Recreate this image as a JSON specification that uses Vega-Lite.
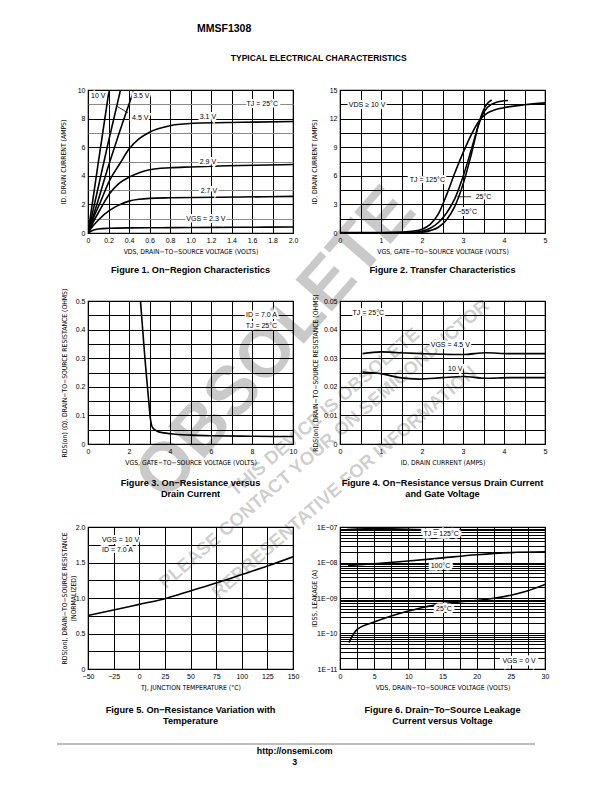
{
  "$schema": "https://vega.github.io/schema/vega-lite/v6.json",
  "background": "white",
  "padding": {"left": 56, "top": 24, "right": 5, "bottom": 5},
  "title": {"text": "MMSF1308", "anchor": "start", "dx": 141, "fontSize": 10.5, "offset": 19},
  "vconcat": [
    {
      "title": {"text": ["http://onsemi.com", "3"], "orient": "bottom", "anchor": "middle", "dx": -8, "fontSize": 8.8, "offset": 2, "lineHeight": 11},
      "vconcat": [
        {
          "title": {"text": "TYPICAL ELECTRICAL CHARACTERISTICS", "anchor": "middle", "dx": 16, "fontSize": 8.5, "offset": 23},
          "columns": 2,
          "align": "each",
          "bounds": "flush",
          "spacing": {"row": 0, "column": 47},
          "concat": [
            {
              "width": 205, "height": 143,
              "title": {"text": "Figure 1. On−Region Characteristics", "orient": "bottom", "frame": "group", "anchor": "middle", "offset": 11},
              "layer": [
                {"data": {"name": "fig1"}, "mark": {"type": "line", "stroke": "black", "strokeWidth": 1.6, "interpolate": "monotone", "clip": true},
                 "encoding": {
                   "x": {"field": "vds", "type": "quantitative", "scale": {"domain": [0, 2], "nice": false, "zero": false},
                         "axis": {"title": "VDS, DRAIN−TO−SOURCE VOLTAGE (VOLTS)", "tickCount": 100, "labelOverlap": false, "values": [0,0.2,0.4,0.6,0.8,1,1.2,1.4,1.6,1.8,2], "labelExpr": "datum.value == 0 ? '0' : format(datum.value, '.1f')"}},
                   "y": {"field": "id", "type": "quantitative", "scale": {"domain": [0, 10], "nice": false},
                         "axis": {"title": "ID, DRAIN CURRENT (AMPS)", "titlePadding": 10.7, "tickCount": 100, "labelOverlap": false, "values": [0,1,2,3,4,5,6,7,8,9,10], "labelExpr": "datum.value % 2 == 0 ? format(datum.value, 'd') : ''", "gridColor": {"condition": {"test": "datum.value % 2 == 1", "value": "#8a8a8a"}, "value": "black"}}},
                   "detail": {"field": "vgs"}
                 }},
                {"data": {"name": "fig1_lead"}, "mark": {"type": "line", "stroke": "black", "strokeWidth": 0.8, "interpolate": "linear"},
                 "encoding": {"x": {"field": "vds", "type": "quantitative"}, "y": {"field": "id", "type": "quantitative"}}},
                {"data": {"name": "fig1_lab"}, "mark": {"type": "text", "fill": "white", "stroke": "white", "strokeWidth": 4, "align": "center", "baseline": "middle", "fontSize": 7},
                 "encoding": {"x": {"field": "vds", "type": "quantitative"}, "y": {"field": "id", "type": "quantitative"}, "text": {"field": "text"}}},
                {"data": {"name": "fig1_lab"}, "mark": {"type": "text", "fill": "black", "align": "center", "baseline": "middle", "fontSize": 7},
                 "encoding": {"x": {"field": "vds", "type": "quantitative"}, "y": {"field": "id", "type": "quantitative"}, "text": {"field": "text"}}}
              ]
            },
            {
              "width": 205, "height": 143,
              "title": {"text": "Figure 2. Transfer Characteristics", "orient": "bottom", "frame": "group", "anchor": "middle", "offset": 11},
              "layer": [
                {"data": {"name": "fig2"}, "mark": {"type": "line", "stroke": "black", "strokeWidth": 1.6, "interpolate": "monotone", "clip": true},
                 "encoding": {
                   "x": {"field": "vgs", "type": "quantitative", "scale": {"domain": [0, 5], "nice": false, "zero": false},
                         "axis": {"title": "VGS, GATE−TO−SOURCE VOLTAGE (VOLTS)", "tickCount": 100, "labelOverlap": false, "values": [0,0.5,1,1.5,2,2.5,3,3.5,4,4.5,5], "labelExpr": "datum.value % 1 == 0 ? format(datum.value, 'd') : ''"}},
                   "y": {"field": "id", "type": "quantitative", "scale": {"domain": [0, 15], "nice": false},
                         "axis": {"title": "ID, DRAIN CURRENT (AMPS)", "titlePadding": 11.5, "tickCount": 100, "labelOverlap": false, "values": [0,1.5,3,4.5,6,7.5,9,10.5,12,13.5,15], "labelExpr": "datum.value % 3 == 0 ? format(datum.value, 'd') : ''"}},
                   "detail": {"field": "tj"}
                 }},
                {"data": {"name": "fig2_lead"}, "mark": {"type": "line", "stroke": "black", "strokeWidth": 0.8, "interpolate": "linear"},
                 "encoding": {"x": {"field": "vgs", "type": "quantitative"}, "y": {"field": "id", "type": "quantitative"}}},
                {"data": {"name": "fig2_lab"}, "mark": {"type": "text", "fill": "white", "stroke": "white", "strokeWidth": 4, "align": "center", "baseline": "middle", "fontSize": 7},
                 "encoding": {"x": {"field": "vgs", "type": "quantitative"}, "y": {"field": "id", "type": "quantitative"}, "text": {"field": "text"}}},
                {"data": {"name": "fig2_lab"}, "mark": {"type": "text", "fill": "black", "align": "center", "baseline": "middle", "fontSize": 7},
                 "encoding": {"x": {"field": "vgs", "type": "quantitative"}, "y": {"field": "id", "type": "quantitative"}, "text": {"field": "text"}}}
              ]
            },
            {
              "width": 205, "height": 68, "view": {"stroke": null},
              "layer": [
                {"data": {"name": "watermark_big"}, "mark": {"type": "text", "font": "Liberation Sans", "fontWeight": "bold", "fontSize": 70, "angle": -49, "fill": "rgba(0,0,0,0.21)", "align": "center", "baseline": "middle"},
                 "encoding": {
                   "x": {"field": "fx", "type": "quantitative", "scale": {"domain": [0, 1], "nice": false, "zero": false}, "axis": null},
                   "y": {"field": "fy", "type": "quantitative", "scale": {"domain": [0, 1], "nice": false, "zero": false, "reverse": true}, "axis": null},
                   "text": {"field": "text"}
                 }},
                {"data": {"name": "watermark_small"}, "mark": {"type": "text", "font": "Liberation Sans", "fontWeight": "bold", "fontSize": 18.5, "angle": -41, "fill": "rgba(0,0,0,0.21)", "align": "center", "baseline": "middle"},
                 "encoding": {
                   "x": {"field": "fx", "type": "quantitative"},
                   "y": {"field": "fy", "type": "quantitative"},
                   "text": {"field": "text"}
                 }}
              ]
            },
            {"width": 205, "height": 68, "view": {"stroke": null}, "mark": {"type": "rule"}, "encoding": {}},
            {
              "width": 205, "height": 143,
              "title": {"text": ["Figure 3. On−Resistance versus", "Drain Current"], "orient": "bottom", "frame": "group", "anchor": "middle", "offset": 13},
              "layer": [
                {"data": {"name": "fig3"}, "mark": {"type": "line", "stroke": "black", "strokeWidth": 1.6, "interpolate": "monotone", "clip": true},
                 "encoding": {
                   "x": {"field": "vgs", "type": "quantitative", "scale": {"domain": [0, 10], "nice": false, "zero": false},
                         "axis": {"title": "VGS, GATE−TO−SOURCE VOLTAGE (VOLTS)", "tickCount": 100, "labelOverlap": false, "values": [0,1,2,3,4,5,6,7,8,9,10], "labelExpr": "datum.value % 2 == 0 ? format(datum.value, 'd') : ''"}},
                   "y": {"field": "rds", "type": "quantitative", "scale": {"domain": [0, 0.5], "nice": false},
                         "axis": {"title": "RDS(on) (Ω), DRAIN−TO−SOURCE RESISTANCE (OHMS)", "titlePadding": 7.7, "tickCount": 100, "labelOverlap": false, "values": [0,0.05,0.1,0.15,0.2,0.25,0.3,0.35,0.4,0.45,0.5], "labelExpr": "abs(datum.value*10 - round(datum.value*10)) < 0.001 ? (datum.value == 0 ? '0' : format(datum.value, '.1f')) : ''"}}
                 }},
                {"data": {"name": "fig3_lab"}, "mark": {"type": "text", "fill": "white", "stroke": "white", "strokeWidth": 4, "align": "center", "baseline": "middle", "fontSize": 7},
                 "encoding": {"x": {"field": "vgs", "type": "quantitative"}, "y": {"field": "rds", "type": "quantitative"}, "text": {"field": "text"}}},
                {"data": {"name": "fig3_lab"}, "mark": {"type": "text", "fill": "black", "align": "center", "baseline": "middle", "fontSize": 7},
                 "encoding": {"x": {"field": "vgs", "type": "quantitative"}, "y": {"field": "rds", "type": "quantitative"}, "text": {"field": "text"}}}
              ]
            },
            {
              "width": 205, "height": 143,
              "title": {"text": ["Figure 4. On−Resistance versus Drain Current", "and Gate Voltage"], "orient": "bottom", "frame": "group", "anchor": "middle", "offset": 13},
              "layer": [
                {"data": {"name": "fig4"}, "mark": {"type": "line", "stroke": "black", "strokeWidth": 1.6, "interpolate": "monotone", "clip": true},
                 "encoding": {
                   "x": {"field": "id", "type": "quantitative", "scale": {"domain": [0, 5], "nice": false, "zero": false},
                         "axis": {"title": "ID, DRAIN CURRENT (AMPS)", "tickCount": 100, "labelOverlap": false, "values": [0,0.5,1,1.5,2,2.5,3,3.5,4,4.5,5], "labelExpr": "datum.value % 1 == 0 ? format(datum.value, 'd') : ''"}},
                   "y": {"field": "rds", "type": "quantitative", "scale": {"domain": [0, 0.05], "nice": false},
                         "axis": {"title": "RDS(on), DRAIN−TO−SOURCE RESISTANCE (OHMS)", "titlePadding": 4.9, "tickCount": 100, "labelOverlap": false, "values": [0,0.005,0.01,0.015,0.02,0.025,0.03,0.035,0.04,0.045,0.05], "labelExpr": "abs(datum.value*100 - round(datum.value*100)) < 0.001 ? (datum.value == 0 ? '0' : format(datum.value, '.2f')) : ''"}},
                   "detail": {"field": "vgs"}
                 }},
                {"data": {"name": "fig4_lab"}, "mark": {"type": "text", "fill": "white", "stroke": "white", "strokeWidth": 4, "align": "center", "baseline": "middle", "fontSize": 7},
                 "encoding": {"x": {"field": "id", "type": "quantitative"}, "y": {"field": "rds", "type": "quantitative"}, "text": {"field": "text"}}},
                {"data": {"name": "fig4_lab"}, "mark": {"type": "text", "fill": "black", "align": "center", "baseline": "middle", "fontSize": 7},
                 "encoding": {"x": {"field": "id", "type": "quantitative"}, "y": {"field": "rds", "type": "quantitative"}, "text": {"field": "text"}}}
              ]
            },
            {
              "width": 205, "height": 83, "view": {"stroke": null},
              "layer": [
                {"data": {"name": "footer_rule"}, "mark": {"type": "rule", "stroke": "#bdbdbd", "strokeWidth": 2},
                 "encoding": {
                   "x": {"field": "fx", "type": "quantitative", "scale": {"domain": [0, 1], "nice": false, "zero": false}, "axis": null},
                   "x2": {"field": "fx2"},
                   "y": {"field": "fy", "type": "quantitative", "scale": {"domain": [0, 1], "nice": false, "zero": false, "reverse": true}, "axis": null}
                 }}
              ]
            },
            {"width": 205, "height": 83, "view": {"stroke": null}, "mark": {"type": "rule"}, "encoding": {}},
            {
              "width": 205, "height": 142,
              "title": {"text": ["Figure 5. On−Resistance Variation with", "Temperature"], "orient": "bottom", "frame": "group", "anchor": "middle", "offset": 15},
              "layer": [
                {"data": {"name": "fig5"}, "mark": {"type": "line", "stroke": "black", "strokeWidth": 1.6, "interpolate": "monotone", "clip": true},
                 "encoding": {
                   "x": {"field": "tj", "type": "quantitative", "scale": {"domain": [-50, 150], "nice": false, "zero": false},
                         "axis": {"title": "TJ, JUNCTION TEMPERATURE (°C)", "tickCount": 100, "labelOverlap": false, "values": [-50,-25,0,25,50,75,100,125,150], "labelExpr": "format(datum.value, 'd')"}},
                   "y": {"field": "rn", "type": "quantitative", "scale": {"domain": [0, 2], "nice": false},
                         "axis": {"title": ["RDS(on), DRAIN−TO−SOURCE RESISTANCE", "(NORMALIZED)"], "titlePadding": -1.5, "titleLineHeight": 9, "tickCount": 100, "labelOverlap": false, "values": [0,0.25,0.5,0.75,1,1.25,1.5,1.75,2], "labelExpr": "datum.value % 0.5 == 0 ? (datum.value == 0 ? '0' : format(datum.value, '.1f')) : ''"}}
                 }},
                {"data": {"name": "fig5_lab"}, "mark": {"type": "text", "fill": "white", "stroke": "white", "strokeWidth": 4, "align": "left", "baseline": "middle", "fontSize": 7},
                 "encoding": {"x": {"field": "tj", "type": "quantitative"}, "y": {"field": "rn", "type": "quantitative"}, "text": {"field": "text"}}},
                {"data": {"name": "fig5_lab"}, "mark": {"type": "text", "fill": "black", "align": "left", "baseline": "middle", "fontSize": 7},
                 "encoding": {"x": {"field": "tj", "type": "quantitative"}, "y": {"field": "rn", "type": "quantitative"}, "text": {"field": "text"}}}
              ]
            },
            {
              "width": 205, "height": 142,
              "title": {"text": ["Figure 6. Drain−To−Source Leakage", "Current versus Voltage"], "orient": "bottom", "frame": "group", "anchor": "middle", "offset": 15},
              "layer": [
                {"data": {"name": "fig6"}, "mark": {"type": "line", "stroke": "black", "strokeWidth": 1.6, "interpolate": "monotone", "clip": true},
                 "encoding": {
                   "x": {"field": "vds", "type": "quantitative", "scale": {"domain": [0, 30], "nice": false, "zero": false},
                         "axis": {"title": "VDS, DRAIN−TO−SOURCE VOLTAGE (VOLTS)", "tickCount": 100, "labelOverlap": false, "values": [0,2.5,5,7.5,10,12.5,15,17.5,20,22.5,25,27.5,30], "labelExpr": "datum.value % 5 == 0 ? format(datum.value, 'd') : ''"}},
                   "y": {"field": "idss", "type": "quantitative", "scale": {"type": "log", "domain": [1e-11, 1e-7], "nice": false},
                         "axis": {"title": "IDSS, LEAKAGE (A)", "titlePadding": -1, "tickCount": 100, "labelOverlap": false, "values": [1e-11,2e-11,3e-11,4e-11,5e-11,6e-11,7e-11,8e-11,9e-11,1e-10,2e-10,3e-10,4e-10,5e-10,6e-10,7e-10,8e-10,9e-10,1e-9,2e-9,3e-9,4e-9,5e-9,6e-9,7e-9,8e-9,9e-9,1e-8,2e-8,3e-8,4e-8,5e-8,6e-8,7e-8,8e-8,9e-8,1e-7], "labelExpr": "abs(log(datum.value)/LN10 - round(log(datum.value)/LN10)) < 0.001 ? '1E−' + (round(-log(datum.value)/LN10) < 10 ? '0' : '') + round(-log(datum.value)/LN10) : ''"}},
                   "detail": {"field": "tj"}
                 }},
                {"data": {"name": "fig6_lab"}, "mark": {"type": "text", "fill": "white", "stroke": "white", "strokeWidth": 5, "align": "center", "baseline": "middle", "fontSize": 7},
                 "encoding": {"x": {"field": "vds", "type": "quantitative"}, "y": {"field": "idss", "type": "quantitative"}, "text": {"field": "text"}}},
                {"data": {"name": "fig6_lab"}, "mark": {"type": "text", "fill": "black", "align": "center", "baseline": "middle", "fontSize": 7},
                 "encoding": {"x": {"field": "vds", "type": "quantitative"}, "y": {"field": "idss", "type": "quantitative"}, "text": {"field": "text"}}}
              ]
            }
          ]
        }
      ]
    }
  ],
  "datasets": {
    "watermark_big": [{"fx": 0.917, "fy": 1.63, "text": "OBSOLETE"}],
    "watermark_small": [
      {"fx": 1.152, "fy": 2.63, "text": "THIS DEVICE IS OBSOLETE"},
      {"fx": 1.151, "fy": 3.103, "text": "PLEASE CONTACT YOUR ON SEMICONDUCTOR"},
      {"fx": 1.249, "fy": 3.662, "text": "REPRESENTATIVE FOR INFORMATION"}
    ],
    "footer_rule": [{"fx": -0.1512, "fx2": 2.1805, "fy": 3.614}],
    "fig1": [
      {"vgs": "2.3 V", "vds": 0, "id": 0}, {"vgs": "2.3 V", "vds": 0.05, "id": 0.19}, {"vgs": "2.3 V", "vds": 0.1, "id": 0.28}, {"vgs": "2.3 V", "vds": 0.2, "id": 0.33}, {"vgs": "2.3 V", "vds": 0.4, "id": 0.36}, {"vgs": "2.3 V", "vds": 0.7, "id": 0.37}, {"vgs": "2.3 V", "vds": 1.0, "id": 0.38}, {"vgs": "2.3 V", "vds": 1.5, "id": 0.4}, {"vgs": "2.3 V", "vds": 2.0, "id": 0.42},
      {"vgs": "2.7 V", "vds": 0, "id": 0}, {"vgs": "2.7 V", "vds": 0.05, "id": 0.5}, {"vgs": "2.7 V", "vds": 0.114, "id": 1.0}, {"vgs": "2.7 V", "vds": 0.21, "id": 1.58}, {"vgs": "2.7 V", "vds": 0.3, "id": 1.95}, {"vgs": "2.7 V", "vds": 0.4, "id": 2.23}, {"vgs": "2.7 V", "vds": 0.5, "id": 2.36}, {"vgs": "2.7 V", "vds": 0.6, "id": 2.42}, {"vgs": "2.7 V", "vds": 0.8, "id": 2.46}, {"vgs": "2.7 V", "vds": 1.03, "id": 2.48}, {"vgs": "2.7 V", "vds": 1.5, "id": 2.52}, {"vgs": "2.7 V", "vds": 2.0, "id": 2.56},
      {"vgs": "2.9 V", "vds": 0, "id": 0}, {"vgs": "2.9 V", "vds": 0.05, "id": 0.75}, {"vgs": "2.9 V", "vds": 0.114, "id": 1.58}, {"vgs": "2.9 V", "vds": 0.21, "id": 2.74}, {"vgs": "2.9 V", "vds": 0.3, "id": 3.45}, {"vgs": "2.9 V", "vds": 0.4, "id": 3.9}, {"vgs": "2.9 V", "vds": 0.5, "id": 4.22}, {"vgs": "2.9 V", "vds": 0.6, "id": 4.42}, {"vgs": "2.9 V", "vds": 0.8, "id": 4.56}, {"vgs": "2.9 V", "vds": 1.0, "id": 4.62}, {"vgs": "2.9 V", "vds": 1.36, "id": 4.7}, {"vgs": "2.9 V", "vds": 2.0, "id": 4.79},
      {"vgs": "3.1 V", "vds": 0, "id": 0}, {"vgs": "3.1 V", "vds": 0.05, "id": 1.0}, {"vgs": "3.1 V", "vds": 0.114, "id": 2.05}, {"vgs": "3.1 V", "vds": 0.21, "id": 3.67}, {"vgs": "3.1 V", "vds": 0.31, "id": 4.84}, {"vgs": "3.1 V", "vds": 0.4, "id": 5.88}, {"vgs": "3.1 V", "vds": 0.5, "id": 6.6}, {"vgs": "3.1 V", "vds": 0.6, "id": 7.05}, {"vgs": "3.1 V", "vds": 0.8, "id": 7.5}, {"vgs": "3.1 V", "vds": 1.03, "id": 7.67}, {"vgs": "3.1 V", "vds": 1.5, "id": 7.74}, {"vgs": "3.1 V", "vds": 2.0, "id": 7.8},
      {"vgs": "3.5 V", "vds": 0, "id": 0}, {"vgs": "3.5 V", "vds": 0.1, "id": 2.3}, {"vgs": "3.5 V", "vds": 0.2, "id": 4.7}, {"vgs": "3.5 V", "vds": 0.3, "id": 6.9}, {"vgs": "3.5 V", "vds": 0.448, "id": 10},
      {"vgs": "4.5 V", "vds": 0, "id": 0}, {"vgs": "4.5 V", "vds": 0.1, "id": 3.2}, {"vgs": "4.5 V", "vds": 0.2, "id": 6.4}, {"vgs": "4.5 V", "vds": 0.317, "id": 10},
      {"vgs": "10 V", "vds": 0, "id": 0}, {"vgs": "10 V", "vds": 0.1, "id": 4.9}, {"vgs": "10 V", "vds": 0.206, "id": 10}
    ],
    "fig1_lead": [{"vds": 0.39, "id": 8.4}, {"vds": 0.285, "id": 8.85}],
    "fig1_lab": [
      {"vds": 0.1, "id": 9.55, "text": "10 V"},
      {"vds": 0.52, "id": 9.55, "text": "3.5 V"},
      {"vds": 0.51, "id": 8.05, "text": "4.5 V"},
      {"vds": 1.7, "id": 9.0, "text": "TJ = 25°C"},
      {"vds": 1.17, "id": 8.08, "text": "3.1 V"},
      {"vds": 1.17, "id": 5.0, "text": "2.9 V"},
      {"vds": 1.18, "id": 2.95, "text": "2.7 V"},
      {"vds": 1.15, "id": 0.95, "text": "VGS = 2.3 V"}
    ],
    "fig2": [
      {"tj": "125", "vgs": 0, "id": 0.05}, {"tj": "125", "vgs": 1.0, "id": 0.05}, {"tj": "125", "vgs": 1.5, "id": 0.1}, {"tj": "125", "vgs": 1.8, "id": 0.2}, {"tj": "125", "vgs": 2.0, "id": 0.4}, {"tj": "125", "vgs": 2.2, "id": 0.9}, {"tj": "125", "vgs": 2.4, "id": 2.0}, {"tj": "125", "vgs": 2.6, "id": 4.0}, {"tj": "125", "vgs": 2.8, "id": 6.3}, {"tj": "125", "vgs": 3.0, "id": 8.4}, {"tj": "125", "vgs": 3.2, "id": 10.3}, {"tj": "125", "vgs": 3.4, "id": 11.8}, {"tj": "125", "vgs": 3.6, "id": 12.6}, {"tj": "125", "vgs": 3.8, "id": 12.95}, {"tj": "125", "vgs": 4.0, "id": 13.15}, {"tj": "125", "vgs": 4.5, "id": 13.45}, {"tj": "125", "vgs": 5.0, "id": 13.65},
      {"tj": "25", "vgs": 0, "id": 0.02}, {"tj": "25", "vgs": 1.5, "id": 0.03}, {"tj": "25", "vgs": 1.8, "id": 0.08}, {"tj": "25", "vgs": 2.0, "id": 0.2}, {"tj": "25", "vgs": 2.2, "id": 0.5}, {"tj": "25", "vgs": 2.4, "id": 1.1}, {"tj": "25", "vgs": 2.6, "id": 2.1}, {"tj": "25", "vgs": 2.8, "id": 3.6}, {"tj": "25", "vgs": 3.0, "id": 5.9}, {"tj": "25", "vgs": 3.2, "id": 8.7}, {"tj": "25", "vgs": 3.4, "id": 11.6}, {"tj": "25", "vgs": 3.5, "id": 12.6}, {"tj": "25", "vgs": 3.6, "id": 13.2}, {"tj": "25", "vgs": 3.8, "id": 13.7}, {"tj": "25", "vgs": 4.1, "id": 13.9},
      {"tj": "-55", "vgs": 0, "id": 0}, {"tj": "-55", "vgs": 1.8, "id": 0.02}, {"tj": "-55", "vgs": 2.0, "id": 0.08}, {"tj": "-55", "vgs": 2.2, "id": 0.25}, {"tj": "-55", "vgs": 2.4, "id": 0.6}, {"tj": "-55", "vgs": 2.6, "id": 1.4}, {"tj": "-55", "vgs": 2.8, "id": 2.8}, {"tj": "-55", "vgs": 3.0, "id": 5.1}, {"tj": "-55", "vgs": 3.2, "id": 8.2}, {"tj": "-55", "vgs": 3.4, "id": 11.7}, {"tj": "-55", "vgs": 3.5, "id": 12.9}, {"tj": "-55", "vgs": 3.6, "id": 13.6}, {"tj": "-55", "vgs": 3.7, "id": 13.95}
    ],
    "fig2_lead": [{"vgs": 3.2, "id": 3.8}, {"vgs": 2.86, "id": 3.8}],
    "fig2_lab": [
      {"vgs": 0.66, "id": 13.4, "text": "VDS ≥ 10 V"},
      {"vgs": 2.13, "id": 5.6, "text": "TJ = 125°C"},
      {"vgs": 3.5, "id": 3.8, "text": "25°C"},
      {"vgs": 3.1, "id": 2.2, "text": "−55°C"}
    ],
    "fig3": [
      {"vgs": 2.56, "rds": 0.5}, {"vgs": 2.7, "rds": 0.37}, {"vgs": 2.8, "rds": 0.28}, {"vgs": 2.9, "rds": 0.2}, {"vgs": 3.0, "rds": 0.12}, {"vgs": 3.05, "rds": 0.085}, {"vgs": 3.1, "rds": 0.066}, {"vgs": 3.2, "rds": 0.053}, {"vgs": 3.4, "rds": 0.044}, {"vgs": 3.7, "rds": 0.039}, {"vgs": 4.0, "rds": 0.036}, {"vgs": 5.0, "rds": 0.031}, {"vgs": 6.0, "rds": 0.029}, {"vgs": 8.0, "rds": 0.027}, {"vgs": 10.0, "rds": 0.026}
    ],
    "fig3_lab": [
      {"vgs": 8.46, "rds": 0.451, "text": "ID = 7.0 A"},
      {"vgs": 8.46, "rds": 0.413, "text": "TJ = 25°C"}
    ],
    "fig4": [
      {"vgs": "4.5 V", "id": 0.55, "rds": 0.0316}, {"vgs": "4.5 V", "id": 1.0, "rds": 0.0322}, {"vgs": "4.5 V", "id": 1.45, "rds": 0.0319}, {"vgs": "4.5 V", "id": 2.0, "rds": 0.0316}, {"vgs": "4.5 V", "id": 2.5, "rds": 0.0314}, {"vgs": "4.5 V", "id": 3.0, "rds": 0.0313}, {"vgs": "4.5 V", "id": 3.56, "rds": 0.0319}, {"vgs": "4.5 V", "id": 4.13, "rds": 0.0316}, {"vgs": "4.5 V", "id": 5.0, "rds": 0.0316},
      {"vgs": "10 V", "id": 0.55, "rds": 0.0252}, {"vgs": "10 V", "id": 1.0, "rds": 0.0246}, {"vgs": "10 V", "id": 1.45, "rds": 0.0232}, {"vgs": "10 V", "id": 1.93, "rds": 0.0227}, {"vgs": "10 V", "id": 2.5, "rds": 0.0232}, {"vgs": "10 V", "id": 3.0, "rds": 0.0236}, {"vgs": "10 V", "id": 3.56, "rds": 0.023}, {"vgs": "10 V", "id": 4.13, "rds": 0.0232}, {"vgs": "10 V", "id": 5.0, "rds": 0.0232}
    ],
    "fig4_lab": [
      {"id": 0.69, "rds": 0.0457, "text": "TJ = 25°C"},
      {"id": 2.69, "rds": 0.0345, "text": "VGS = 4.5 V"},
      {"id": 2.81, "rds": 0.0262, "text": "10 V"}
    ],
    "fig5": [
      {"tj": -50, "rn": 0.755}, {"tj": -25, "rn": 0.83}, {"tj": 0, "rn": 0.91}, {"tj": 25, "rn": 0.99}, {"tj": 50, "rn": 1.1}, {"tj": 75, "rn": 1.21}, {"tj": 100, "rn": 1.33}, {"tj": 125, "rn": 1.45}, {"tj": 150, "rn": 1.58}
    ],
    "fig5_lab": [
      {"tj": -36.4, "rn": 1.81, "text": "VGS = 10 V"},
      {"tj": -36.4, "rn": 1.67, "text": "ID = 7.0 A"}
    ],
    "fig6": [
      {"tj": "125", "vds": 1.0, "idss": 8.5e-8}, {"tj": "125", "vds": 5, "idss": 9.0e-8}, {"tj": "125", "vds": 10, "idss": 9.6e-8}, {"tj": "125", "vds": 14, "idss": 1.0e-7}, {"tj": "125", "vds": 20, "idss": 1.02e-7}, {"tj": "125", "vds": 30, "idss": 1.05e-7},
      {"tj": "100", "vds": 1.2, "idss": 8.2e-9}, {"tj": "100", "vds": 5, "idss": 9.2e-9}, {"tj": "100", "vds": 10, "idss": 1.1e-8}, {"tj": "100", "vds": 15, "idss": 1.35e-8}, {"tj": "100", "vds": 20, "idss": 1.65e-8}, {"tj": "100", "vds": 25, "idss": 1.9e-8}, {"tj": "100", "vds": 30, "idss": 2.0e-8},
      {"tj": "25", "vds": 1.3, "idss": 5.5e-11}, {"tj": "25", "vds": 2.5, "idss": 1.3e-10}, {"tj": "25", "vds": 5, "idss": 2.1e-10}, {"tj": "25", "vds": 7.5, "idss": 3.1e-10}, {"tj": "25", "vds": 10, "idss": 4.3e-10}, {"tj": "25", "vds": 12.5, "idss": 5.6e-10}, {"tj": "25", "vds": 15, "idss": 7.0e-10}, {"tj": "25", "vds": 17.5, "idss": 7.8e-10}, {"tj": "25", "vds": 20, "idss": 8.5e-10}, {"tj": "25", "vds": 22.5, "idss": 9.8e-10}, {"tj": "25", "vds": 25, "idss": 1.2e-9}, {"tj": "25", "vds": 27.5, "idss": 1.6e-9}, {"tj": "25", "vds": 30, "idss": 2.4e-9}
    ],
    "fig6_lab": [
      {"vds": 14.8, "idss": 6.45e-8, "text": "TJ = 125°C"},
      {"vds": 14.7, "idss": 8.1e-9, "text": "100°C"},
      {"vds": 15.2, "idss": 4.8e-10, "text": "25°C"},
      {"vds": 26.2, "idss": 1.7e-11, "text": "VGS = 0 V"}
    ]
  },
  "config": {
    "font": "Liberation Sans",
    "view": {"stroke": "black", "strokeWidth": 1.2},
    "axis": {"domain": false, "ticks": false, "grid": true, "gridColor": "black", "gridOpacity": 1, "gridWidth": 1, "labelFont": "Liberation Sans", "labelFontSize": 7, "labelColor": "black", "labelPadding": 3, "labelFlush": false, "labelOverlap": false, "titleFont": "Liberation Sans Narrow, Arial Narrow, DejaVu Sans Condensed, sans-serif", "titleFontSize": 6.8, "titleFontWeight": "normal", "titleColor": "black"},
    "axisX": {"titlePadding": 5},
    "title": {"font": "Liberation Sans", "fontWeight": "bold", "fontSize": 9.2, "color": "black", "lineHeight": 11}
  }
}
